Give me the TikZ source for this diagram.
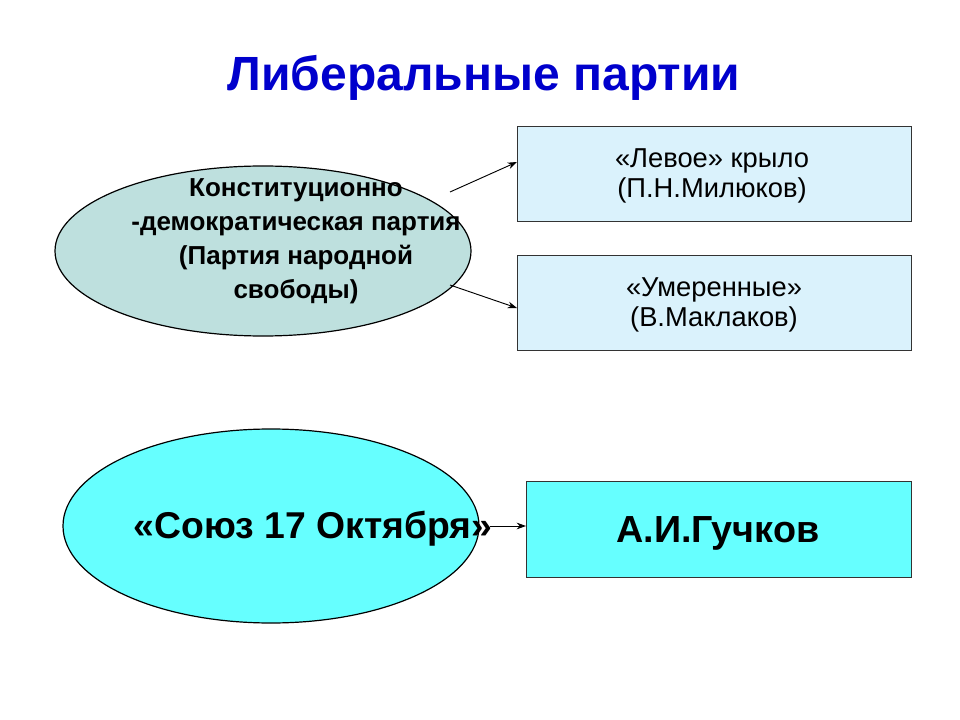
\documentclass[tikz,border=0pt]{standalone}
\usepackage{fontspec}
\setmainfont{Liberation Sans}
\usetikzlibrary{shapes.geometric,arrows.meta}
\definecolor{tblue}{RGB}{0,0,204}
\definecolor{ell1}{RGB}{190,224,222}
\definecolor{box1}{RGB}{218,242,252}
\definecolor{cyanf}{RGB}{102,255,255}
\tikzset{
 ell/.style={ellipse,draw=black,line width=0.9pt,inner sep=0pt},
 bx/.style={draw=black!80,line width=0.8pt,fill=box1,anchor=north west,inner sep=0pt},
 con/.style={-{Stealth[length=7pt,width=5pt]},line width=0.7pt}
}
\begin{document}
\begin{tikzpicture}[x=0.75pt,y=-0.75pt]
\useasboundingbox (0,0) rectangle (960,720);
\fill[white] (0,0) rectangle (960,720);
\node[text=tblue,font=\bfseries\fontsize{36}{40}\selectfont] (t) at (484,78) {Либеральные партии};
\node[ell,fill=ell1,minimum width=416*0.75pt,minimum height=170*0.75pt] (e1) at (263,251) {};
\node[font=\bfseries\fontsize{19.5}{25.5}\selectfont,align=center] (e1t) at (296,241) {Конституционно\\-демократическая партия\\(Партия народной\\свободы)};
\node[bx,minimum width=394*0.75pt,minimum height=95*0.75pt] (b1) at (517,126) {};
\node[font=\fontsize{20.5}{23}\selectfont,align=center] (b1t) at (712,176) {«Левое» крыло\\ (П.Н.Милюков)};
\node[bx,minimum width=394*0.75pt,minimum height=95*0.75pt] (b2) at (517,255) {};
\node[font=\fontsize{20.5}{23}\selectfont,align=center] (b2t) at (714,305) {«Умеренные»\\ (В.Маклаков)};
\node[ell,fill=cyanf,minimum width=416*0.75pt,minimum height=194*0.75pt] (e2) at (271,526) {};
\node[font=\bfseries\fontsize{28}{32}\selectfont] (e2t) at (313,529) {«Союз 17 Октября»};
\node[bx,fill=cyanf,minimum width=385*0.75pt,minimum height=96*0.75pt] (b3) at (526,481) {};
\node[font=\bfseries\fontsize{28.3}{32}\selectfont] (b3t) at (718,533) {А.И.Гучков};
\coordinate (a1) at (450,192);
\coordinate (a2) at (450,285);
\coordinate (a3) at (490,526);
\draw[con] (a1) -- (b1.west |- 0,162);
\draw[con] (a2) -- (b2.west |- 0,308);
\draw[con] (a3) -- (b3.west |- a3);
\end{tikzpicture}
\end{document}
